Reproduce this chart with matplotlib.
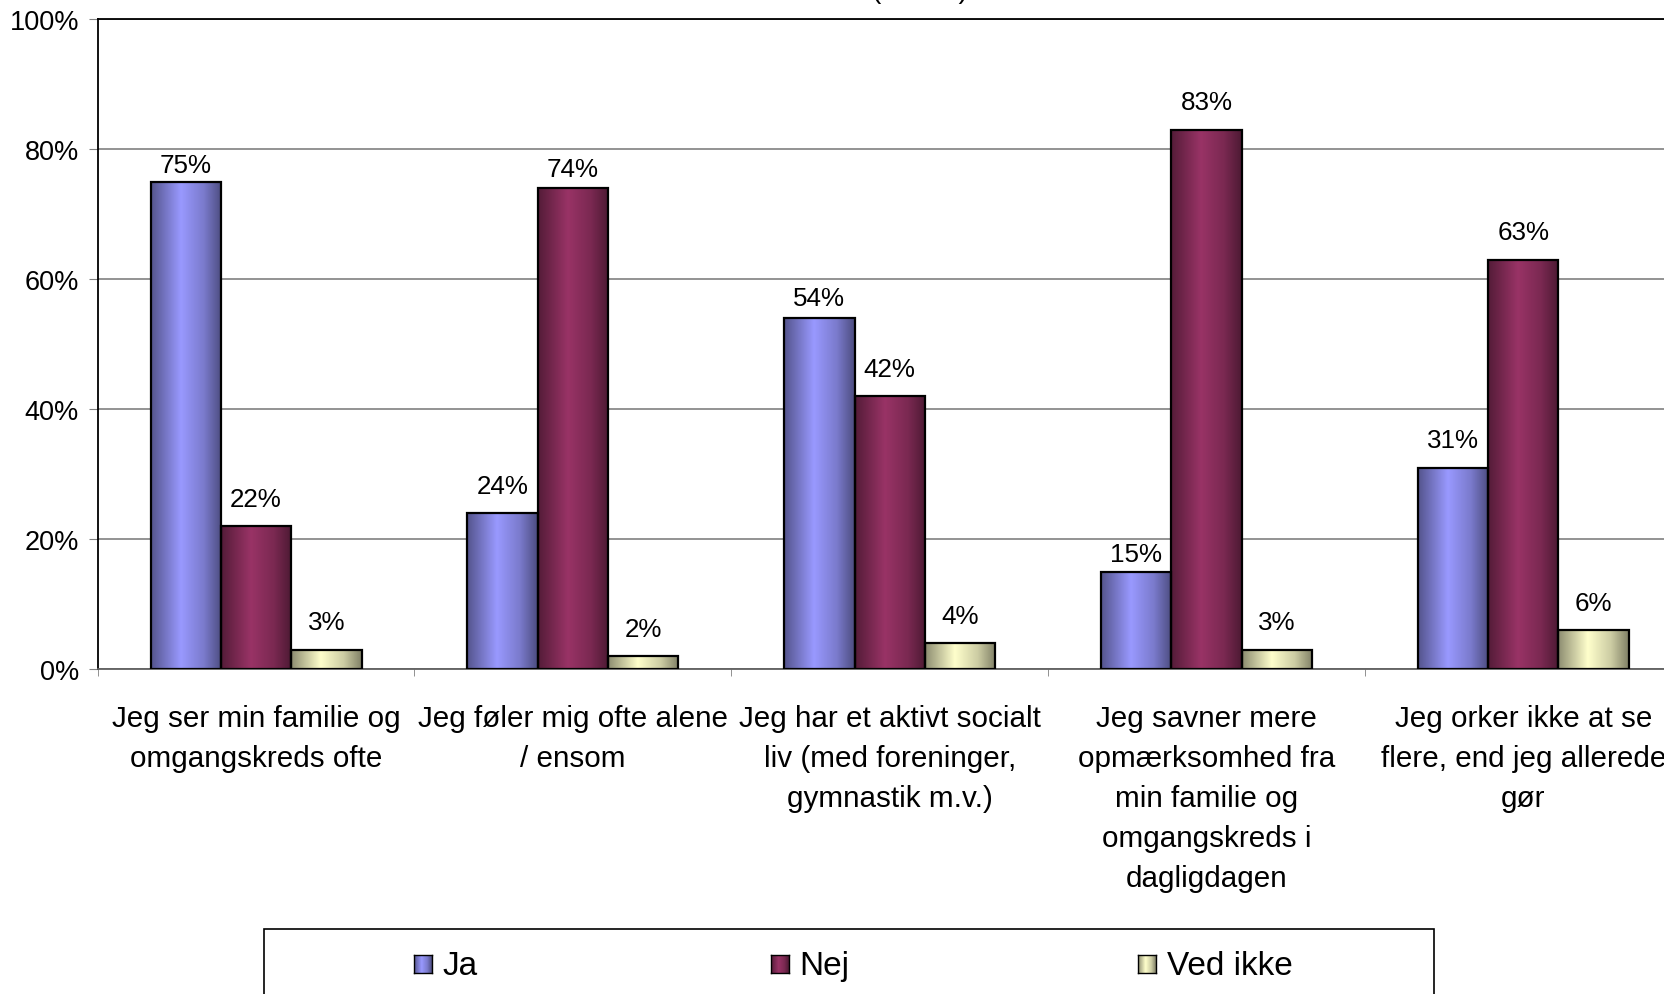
import numpy as np
import matplotlib
matplotlib.use('Agg')
import matplotlib.pyplot as plt
from matplotlib.colors import LinearSegmentedColormap, to_rgb
from matplotlib.patches import Rectangle

plt.rcParams['font.family'] = ['Liberation Sans', 'DejaVu Sans']

# data
categories = [
    'Jeg ser min familie og\nomgangskreds ofte',
    'Jeg føler mig ofte alene\n/ ensom',
    'Jeg har et aktivt socialt\nliv (med foreninger,\ngymnastik m.v.)',
    'Jeg savner mere\nopmærksomhed fra\nmin familie og\nomgangskreds i\ndagligdagen',
    'Jeg orker ikke at se\nflere, end jeg allerede\ngør',
]
ja = [75, 24, 54, 15, 31]
nej = [22, 74, 42, 83, 63]
ved_ikke = [3, 2, 4, 3, 6]
series_names = ['Ja', 'Nej', 'Ved ikke']
y_ticks = [0, 20, 40, 60, 80, 100]

colors = ['#9999FF', '#993366', '#FFFFCC']
# label offsets above bars (points); a few labels sit closer in the original
label_offsets = [
    [3, 11, 6, 4, 11],
    [11, 5, 11, 11, 11],
    [11, 11, 11, 11, 11],
]


def shade_cmap(c):
    # cylinder-like shading: dark edges, light band left of centre
    r = np.array(to_rgb(c))
    stops = [(0.0, r * 0.55), (0.42, r), (0.75, r * 0.8), (1.0, r * 0.5)]
    return LinearSegmentedColormap.from_list('shade', [(p, tuple(v)) for p, v in stops])


grad = np.linspace(0, 1, 128).reshape(1, -1)

W, H = 1665, 995
fig = plt.figure(figsize=(W / 100, H / 100), dpi=100)
ax = fig.add_axes([97.7 / W, (H - 670) / H, 1584 / W, 650 / H])

x = np.arange(len(categories))
w = 0.222
for i, (vals, col) in enumerate(zip([ja, nej, ved_ikke], colors)):
    cmap = shade_cmap(col)
    bars = ax.bar(x + (i - 1) * w, vals, w, facecolor='none',
                  edgecolor='black', linewidth=1.6, zorder=3)
    for j, (b, v) in enumerate(zip(bars, vals)):
        x0 = b.get_x()
        ax.imshow(grad, cmap=cmap, extent=[x0, x0 + w, 0, v],
                  aspect='auto', zorder=2, interpolation='bilinear')
        ax.annotate(f'{v}%', (x0 + w / 2, v), xytext=(0, label_offsets[i][j]),
                    textcoords='offset points', ha='center', va='bottom',
                    fontsize=18.7)

ax.set_xlim(-0.5, 4.5)
ax.set_ylim(0, 100)
ax.set_aspect('auto')
ax.set_yticks(y_ticks)
ax.set_yticklabels([f'{t}%' for t in y_ticks])
ax.set_xticks(x)
ax.set_xticklabels(categories, linespacing=1.55)
ax.set_xticks(np.arange(-0.5, 5, 1), minor=True)
ax.tick_params(axis='y', labelsize=19.5, length=6.5, pad=7, color='#808080')
ax.tick_params(axis='x', which='major', labelsize=21.3, length=0, pad=25)
ax.tick_params(axis='x', which='minor', length=5, color='#808080')
ax.yaxis.grid(True, color='#808080', linewidth=1.2)
ax.set_axisbelow(True)
for s in ['left', 'top']:
    ax.spines[s].set_color('black')
    ax.spines[s].set_linewidth(1.3)
ax.spines['bottom'].set_color('#606060')
ax.spines['bottom'].set_linewidth(1.3)
ax.spines['right'].set_visible(False)

# title, mostly cut off at the top edge
fig.text(920 / W, 1 + 1.7 / H, '(n=400)', ha='center', va='baseline', fontsize=20)

# legend box (bottom edge cut off)
fig.add_artist(Rectangle((264 / W, -0.05), (1434 - 264) / W, (H - 930) / H + 0.05,
                         transform=fig.transFigure, fill=False,
                         edgecolor='black', linewidth=1.2))
marker_x = [414, 771, 1138]
text_x = [442, 799, 1167]
for name, col, mx, tx in zip(series_names, colors, marker_x, text_x):
    max_ = fig.add_axes([mx / W, (H - 974) / H, 18 / W, 18 / H])
    max_.imshow(grad, cmap=shade_cmap(col), aspect='auto', interpolation='bilinear')
    max_.set_xticks([])
    max_.set_yticks([])
    for sp in max_.spines.values():
        sp.set_linewidth(1)
    fig.text(tx / W, (H - 967) / H, name, va='center', fontsize=24)

fig.savefig('out.png', dpi=100)
